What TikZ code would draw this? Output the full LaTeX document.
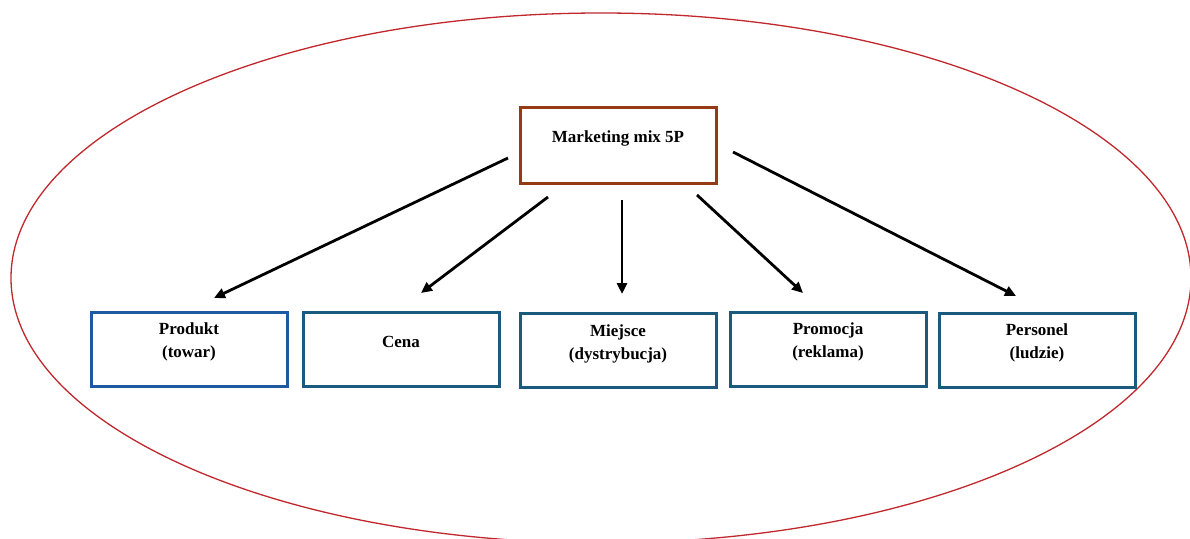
\documentclass[tikz,border=0pt]{standalone}
\usepackage{fontspec}
\setmainfont{Liberation Serif}
\usetikzlibrary{arrows.meta}
\definecolor{ellred}{RGB}{192,40,45}
\definecolor{topbrown}{RGB}{150,58,20}
\definecolor{boxblue}{RGB}{30,90,160}
\definecolor{boxteal}{RGB}{25,90,125}
\tikzset{
  ovalline/.style={draw=ellred, line width=1.3pt},
  topbox/.style={draw=topbrown, line width=3pt, minimum width=196pt, minimum height=76pt, inner sep=0pt},
  catbox/.style={draw=boxteal, line width=3pt, minimum width=196pt, minimum height=74pt, inner sep=0pt},
  txt/.style={font=\fontsize{17}{23}\selectfont\bfseries, align=center, inner sep=0pt},
  arr/.style={line width=2.8pt, -{Triangle[length=11pt,width=10pt]}}
}
\begin{document}
\begin{tikzpicture}[x=1pt,y=-1pt]
\useasboundingbox (0,0) rectangle (1190,538);
\begin{scope}
\clip (0,0) rectangle (1190,538);
\draw[ovalline] (601,278) ellipse [x radius=590, y radius=265];
\end{scope}
% boxes
\node[topbox] (m) at (618,145) {};
\node[txt] (mt) at (618,138) {Marketing mix 5P};
\node[catbox, draw=boxblue] (p1) at (189,349) {};
\node[txt] (p1t) at (189,342) {Produkt\\(towar)};
\node[catbox] (p2) at (401,349.5) {};
\node[txt] (p2t) at (401,342) {Cena};
\node[catbox] (p3) at (618,350.5) {};
\node[txt] (p3t) at (618,343.5) {Miejsce\\(dystrybucja)};
\node[catbox] (p4) at (828,349) {};
\node[txt] (p4t) at (828,342) {Promocja\\(reklama)};
\node[catbox] (p5) at (1037,350.5) {};
\node[txt] (p5t) at (1037,342.5) {Personel\\(ludzie)};
% arrow ends
\coordinate (s1) at (508,158); \coordinate (e1) at (214,298);
\coordinate (s2) at (548,197); \coordinate (e2) at (421,293);
\coordinate (s3) at (622,200); \coordinate (e3) at (622,294);
\coordinate (s4) at (697,195); \coordinate (e4) at (803,293);
\coordinate (s5) at (733,152); \coordinate (e5) at (1016,296);
\draw[arr] (s1) -- (e1);
\draw[arr] (s2) -- (e2);
\draw[arr] (s3) -- (e3);
\draw[arr] (s4) -- (e4);
\draw[arr] (s5) -- (e5);
\end{tikzpicture}
\end{document}
